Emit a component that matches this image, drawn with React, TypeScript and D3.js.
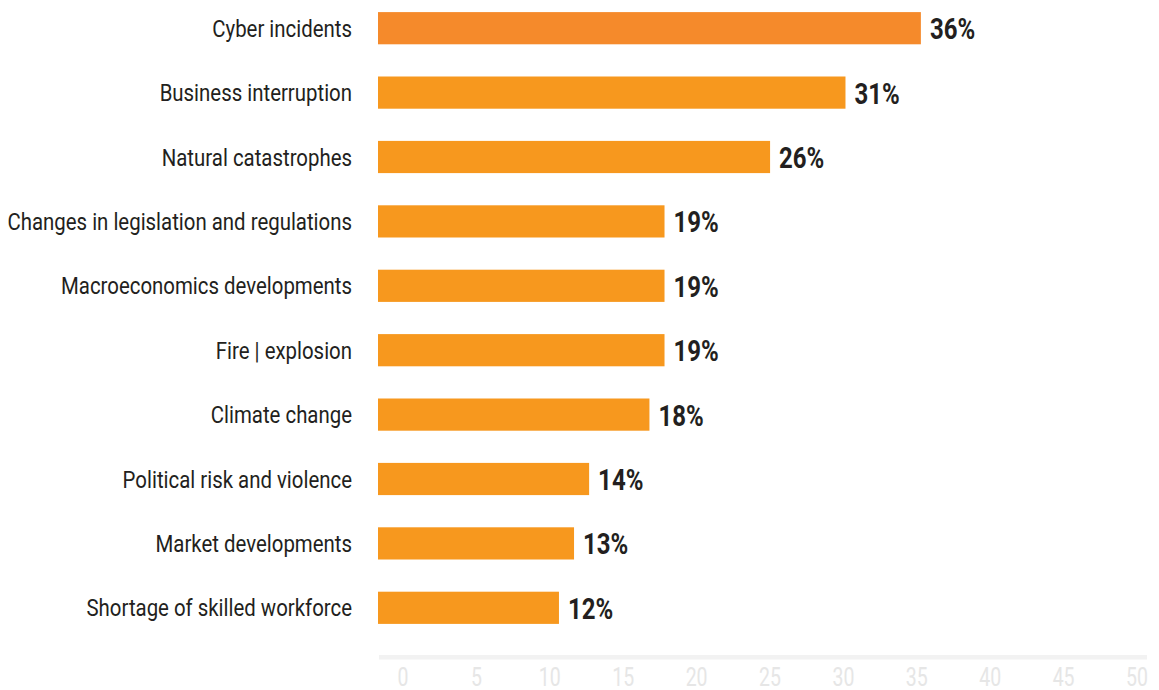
import React from "react";
import * as d3 from "d3";

const categories = [
  "Cyber incidents",
  "Business interruption",
  "Natural catastrophes",
  "Changes in legislation and regulations",
  "Macroeconomics developments",
  "Fire | explosion",
  "Climate change",
  "Political risk and violence",
  "Market developments",
  "Shortage of skilled workforce",
];
const values = [36, 31, 26, 19, 19, 19, 18, 14, 13, 12];
const tickValues = [0, 5, 10, 15, 20, 25, 30, 35, 40, 45, 50];

const W = 1159;
const H = 690;
const FONT = "Roboto, 'Noto Sans', sans-serif";

export default function App() {
  const x = d3.scaleLinear().domain([0, 50]).range([378, 1132]);
  const xAxis = d3.scaleLinear().domain([0, 50]).range([403, 1137]);
  const y = d3
    .scaleBand<string>()
    .domain(categories)
    .range([-4, 640])
    .paddingInner(0.5)
    .paddingOuter(0.25);

  return (
    <svg
      width={W}
      height={H}
      style={{ position: "absolute", left: 0, top: 0, background: "#fff" }}
      fontFamily={FONT}
    >
      {categories.map((c, i) => {
        const yy = y(c)!;
        const bw = y.bandwidth();
        const cy = yy + bw / 2;
        return (
          <g key={c}>
            <rect
              x={x(0)}
              y={yy}
              width={x(values[i]) - x(0)}
              height={bw}
              fill={i === 0 ? "#F58A2B" : "#F7981E"}
            />
            <text
              transform={`translate(352,${cy}) scale(0.85,1)`}
              textAnchor="end"
              dominantBaseline="central"
              fontSize={24}
              fill="#231F20"
            >
              {c}
            </text>
            <text
              transform={`translate(${x(values[i]) + 9},${cy + 1}) scale(0.8,1)`}
              dominantBaseline="central"
              fontSize={30}
              fontWeight="bold"
              fill="#231F20"
            >
              {values[i]}%
            </text>
          </g>
        );
      })}
      <rect x={379} y={655} width={768} height={4.5} fill="#F2F2F2" />
      {tickValues.map((t) => (
        <text
          key={t}
          transform={`translate(${xAxis(t)},686) scale(0.78,1)`}
          textAnchor="middle"
          fontSize={25}
          fill="#E6E6E6"
        >
          {t}
        </text>
      ))}
    </svg>
  );
}
